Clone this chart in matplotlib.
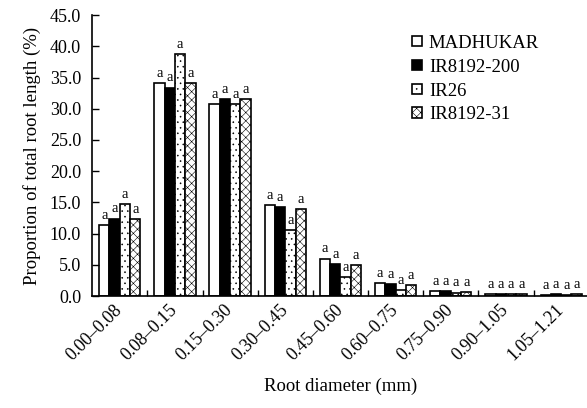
import matplotlib
matplotlib.use("Agg")
import matplotlib.pyplot as plt
import numpy as np

plt.rcParams['font.family'] = ['Liberation Serif', 'DejaVu Serif']
plt.rcParams['hatch.linewidth'] = 0.4

categories = ["0.00–0.08", "0.08–0.15", "0.15–0.30", "0.30–0.45", "0.45–0.60",
              "0.60–0.75", "0.75–0.90", "0.90–1.05", "1.05–1.21"]
series_names = ["MADHUKAR", "IR8192-200", "IR26", "IR8192-31"]
madhukar = [11.3, 34.1, 30.8, 14.5, 6.0, 2.1, 0.75, 0.3, 0.2]
ir8192_200 = [12.4, 33.4, 31.6, 14.2, 5.1, 1.9, 0.75, 0.3, 0.3]
ir26 = [14.7, 38.7, 30.8, 10.6, 3.1, 0.9, 0.55, 0.3, 0.2]
ir8192_31 = [12.3, 34.1, 31.6, 13.9, 4.9, 1.8, 0.7, 0.3, 0.3]
letters = ["a"] * 9
yticks = [0, 5, 10, 15, 20, 25, 30, 35, 40, 45]

series = [madhukar, ir8192_200, ir26, ir8192_31]
faces = ["white", "black", "white", "white"]
hatches = [None, None, "...", "xxxx"]

fig = plt.figure(figsize=(5.87, 4.08), dpi=100)
ax = fig.add_axes([0.157, 0.2745, 0.846, 0.6885])

x = np.arange(len(categories))
w = 0.187
for i, (vals, fc, h) in enumerate(zip(series, faces, hatches)):
    pos = x + (i - 1.5) * w
    ax.bar(pos, vals, width=w, color=fc, edgecolor="black", linewidth=1.2,
           hatch=h, label=series_names[i])
    for p, v, l in zip(pos, vals, letters):
        ax.text(p, v + 0.5, l, ha="center", va="bottom", fontsize=10.5)

ax.set_xlim(-0.5, len(categories) - 0.5)
ax.set_ylim(0, 45)
ax.set_yticks(yticks)
ax.set_yticklabels([f"{t:.1f}" for t in yticks], fontsize=13)
ax.set_xticks(x)
ax.set_xticklabels(categories, rotation=45, ha="right", va="center",
                   rotation_mode="anchor", fontsize=13)
ax.tick_params(axis="x", length=0, pad=8)
ax.set_xticks(np.arange(len(categories)) + 0.5, minor=True)
ax.tick_params(axis="x", which="minor", direction="in", length=4, width=1)
ax.tick_params(axis="y", direction="in", length=5, width=1, pad=8)
for s in ["top", "right"]:
    ax.spines[s].set_visible(False)
for s in ["left", "bottom"]:
    ax.spines[s].set_linewidth(1.2)

ax.set_ylabel("Proportion of total root length (%)", fontsize=13.5, labelpad=6)
ax.set_xlabel("Root diameter (mm)", fontsize=13.5, labelpad=10)

ax.legend(loc="upper left", bbox_to_anchor=(0.629, 0.957), frameon=False,
          fontsize=13.5, handlelength=0.55, handleheight=0.5, handletextpad=0.35,
          labelspacing=0.37, borderaxespad=0)

fig.savefig("out.png", dpi=100)
